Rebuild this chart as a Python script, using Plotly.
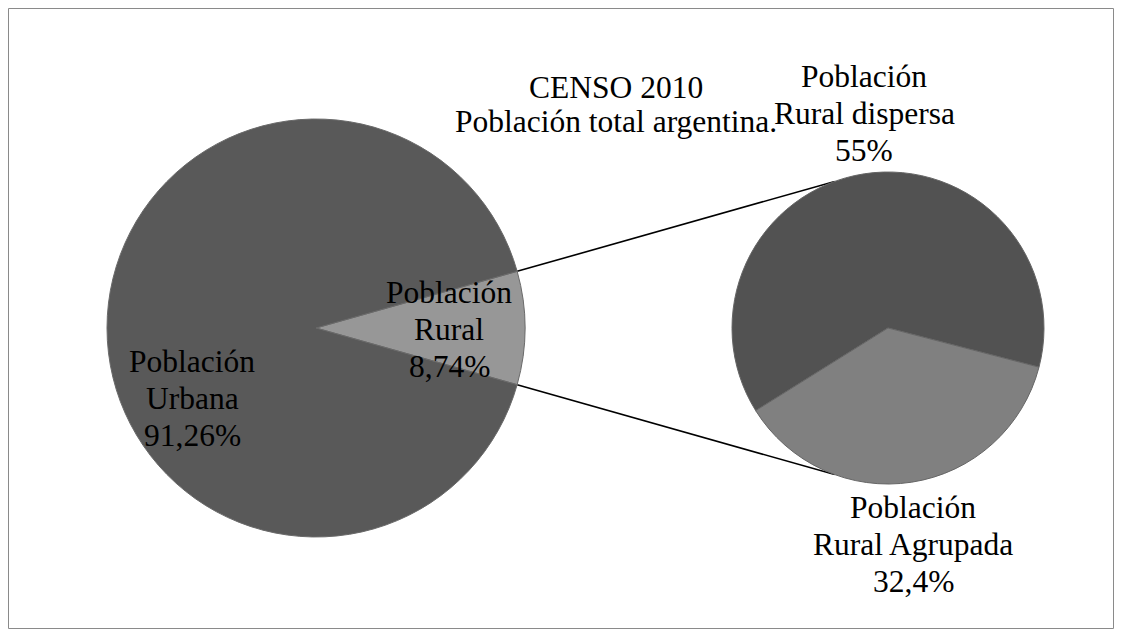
import math
import plotly.graph_objects as go

# ---------------- data ----------------
main_labels = ["Población Rural", "Población Urbana"]
main_values = [8.74, 91.26]
main_text = ["8,74%", "91,26%"]

sub_labels = ["Población Rural dispersa", "Población Rural Agrupada"]
sub_values = [55, 32.4]
sub_text = ["55%", "32,4%"]

title_lines = ["CENSO 2010", "Población total argentina."]

# ---------------- layout geometry (pixels, page coords) ----------------
OFF = 8                       # page body margin
W, H = 1106, 621              # figure size
LC, LR = (316 - OFF, 328 - OFF), 209      # main pie centre / radius
RC, RR = (888 - OFF, 328 - OFF), 156      # secondary pie centre / radius
FONT = "Liberation Serif"
FS = 31.5
LINE_GAP = 37


def domain(c, r):
    cx, cy = c
    return dict(x=[(cx - r) / W, (cx + r) / W],
                y=[(H - (cy + r)) / H, (H - (cy - r)) / H])


fig = go.Figure()

# main pie: rural wedge centred on the right (3 o'clock)
rural_deg = main_values[0] / sum(main_values) * 360
fig.add_trace(go.Pie(
    labels=main_labels, values=main_values, sort=False, direction="clockwise",
    rotation=90 - rural_deg / 2, textinfo="none", hoverinfo="label+percent",
    marker=dict(colors=["#979797", "#595959"], line=dict(color="#6a6a6a", width=1)),
    domain=domain(LC, LR), showlegend=False,
))

# secondary pie
fig.add_trace(go.Pie(
    labels=sub_labels, values=sub_values, sort=False, direction="clockwise",
    rotation=238, textinfo="none", hoverinfo="label+value",
    marker=dict(colors=["#525252", "#808080"], line=dict(color="#666666", width=1)),
    domain=domain(RC, RR), showlegend=False,
))

# connector lines from wedge edges to secondary pie
half = math.radians(rural_deg / 2)
end_ang = math.radians(110)
for s in (1, -1):
    x0 = LC[0] + LR * math.cos(half)
    y0 = LC[1] - s * LR * math.sin(half)
    x1 = RC[0] + RR * math.cos(end_ang)
    y1 = RC[1] - s * RR * math.sin(end_ang)
    fig.add_trace(go.Scatter(x=[x0, x1], y=[y0, y1], mode="lines",
                             line=dict(color="black", width=1.6),
                             hoverinfo="skip", showlegend=False))


def add_block(lines, cx, cy_first, gap=LINE_GAP):
    for i, t in enumerate(lines):
        fig.add_annotation(x=cx - OFF, y=cy_first - OFF + i * gap, xref="x", yref="y",
                           text=t, showarrow=False, xanchor="center", yanchor="middle",
                           font=dict(family=FONT, size=FS, color="black"))


add_block(["Población", "Urbana", main_text[1]], 192, 361)
add_block(["Población", "Rural", main_text[0]], 449, 292)
add_block(["Población", "Rural dispersa", sub_text[0]], 864, 76)
add_block(["Población", "Rural Agrupada", sub_text[1]], 913, 507)
add_block(title_lines, 616, 87, gap=34)

# chart border
fig.add_shape(type="rect", xref="x", yref="y", x0=0.5, y0=0.5, x1=W - 0.5, y1=H - 0.5,
              line=dict(color="#8a8a8a", width=1), layer="below")

fig.update_layout(
    width=W, height=H, margin=dict(l=0, r=0, t=0, b=0),
    paper_bgcolor="white", plot_bgcolor="rgba(0,0,0,0)",
    xaxis=dict(range=[0, W], visible=False, fixedrange=True),
    yaxis=dict(range=[H, 0], visible=False, fixedrange=True),
)

fig.write_html("out.html")
